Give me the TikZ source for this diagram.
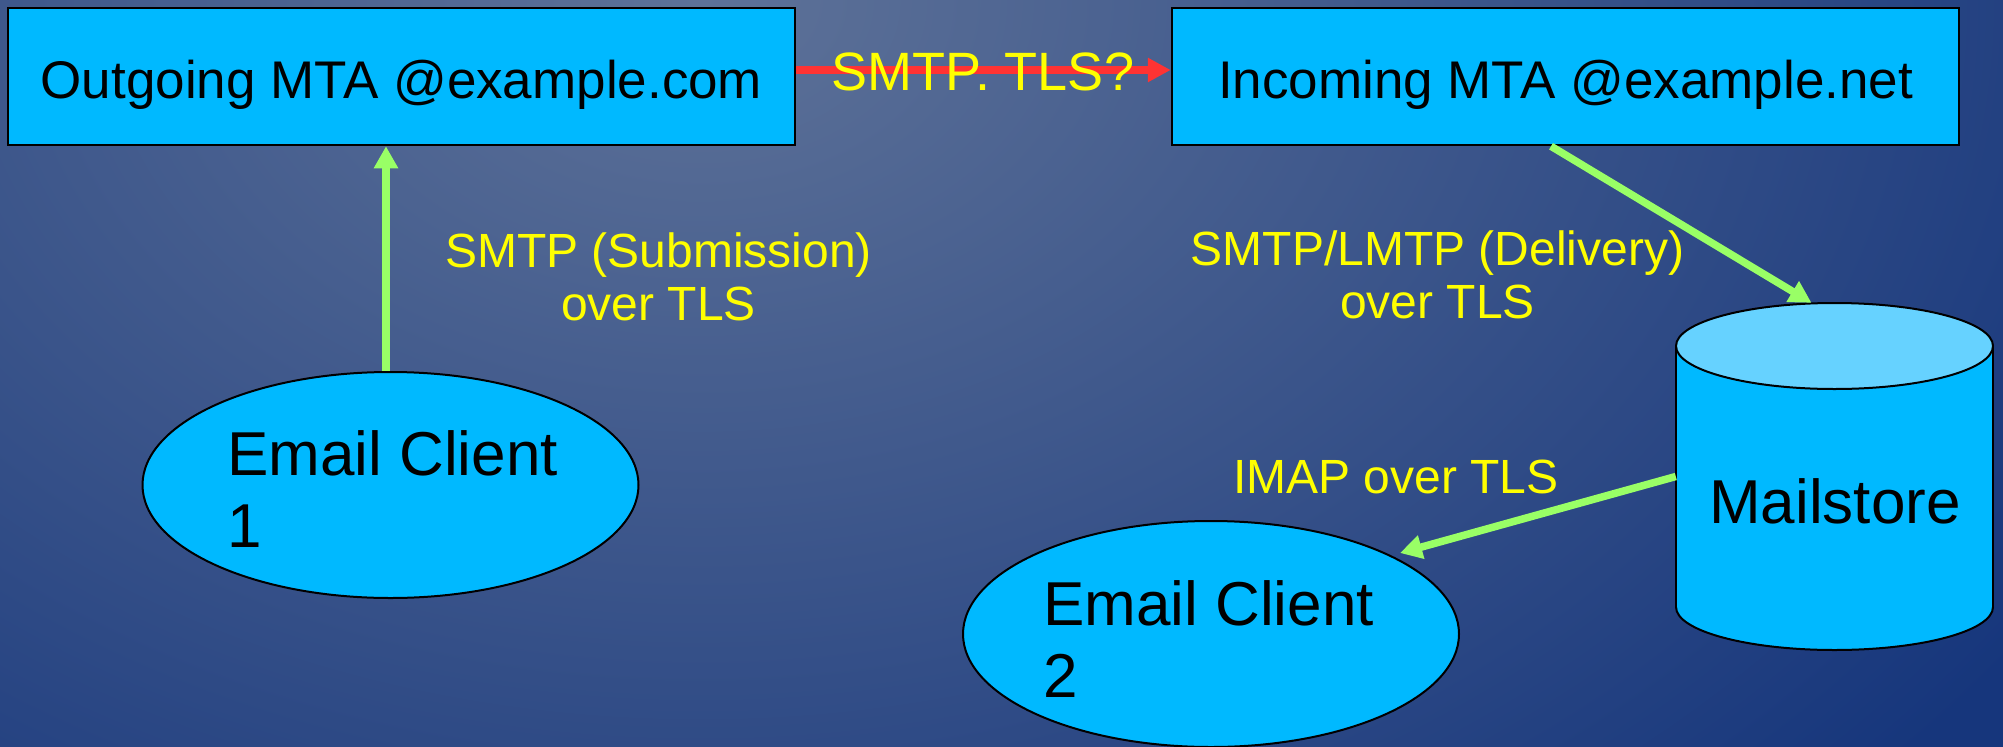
\documentclass[tikz,border=0pt]{standalone}
\usepackage{fontspec}
\setmainfont{Liberation Sans}
\usetikzlibrary{arrows.meta,shapes.geometric}
\definecolor{nodefill}{RGB}{0,185,255}
\definecolor{topfill}{RGB}{102,210,255}
\definecolor{arrgreen}{RGB}{153,255,102}
\definecolor{arrred}{RGB}{255,51,51}
\definecolor{bglight}{RGB}{94,114,152}
\definecolor{bgdark}{RGB}{22,54,124}
\definecolor{lblyellow}{RGB}{255,255,0}
\begin{document}
\begin{tikzpicture}[x=1pt,y=-1pt,
  mtabox/.style={draw=black, line width=2.5pt, fill=nodefill, inner sep=0pt,
    minimum width=787pt, text height=90pt, text depth=47pt,
    font=\fontsize{53}{60}\selectfont},
  client/.style={shape=ellipse, draw=black, line width=2pt, fill=nodefill,
    inner sep=0pt, minimum width=496pt, minimum height=226pt},
  clienttext/.style={anchor=base west, align=left, inner sep=0pt,
    font=\fontsize{62}{72}\selectfont},
  lbl/.style={anchor=base, align=center, inner sep=0pt, text=lblyellow,
    font=\fontsize{48}{53}\selectfont},
  conn/.style={draw=arrgreen, line width=7.5pt, -{Triangle[length=22pt,width=23pt]}},
  redconn/.style={draw=arrred, line width=8pt, -{Triangle[length=23pt,width=23pt]}},
  cyl/.style={draw=black, line width=2pt}
]
\useasboundingbox (0,0) rectangle (2003,747);
\begin{scope}
  \clip (0,0) rectangle (2003,747);
  \fill[bgdark] (0,0) rectangle (2003,747);
  \shade[inner color=bglight, outer color=bgdark] (700,0) ellipse [x radius=1600, y radius=1150];
\end{scope}

% boxes
\node[mtabox] (out) at (401.5,76.5) {Outgoing MTA @example.com};
\node[mtabox] (in) at (1565.5,76.5) {Incoming MTA @example.net};

% email clients
\node[client] (e1) at (390.5,485) {};
\node[clienttext] (e1t) at (227,547) {Email Client\\1};
\node[client] (e2) at (1211,634) {};
\node[clienttext] (e2t) at (1043,697) {Email Client\\2};

% mailstore cylinder
\node[minimum width=317pt, minimum height=347pt, inner sep=0pt] (ms) at (1834.5,476.5) {};
\fill[nodefill] (1834.5,607) ellipse [x radius=158.5, y radius=43];
\draw[cyl] (1834.5,607) ellipse [x radius=158.5, y radius=43];
\fill[nodefill] (1676,346) rectangle (1993,607);
\draw[cyl] (1676,346) -- (1676,607);
\draw[cyl] (1993,346) -- (1993,607);
\draw[cyl, fill=topfill] (1834.5,346) ellipse [x radius=158.5, y radius=43];
\node[anchor=base, inner sep=0pt, font=\fontsize{62}{72}\selectfont] (mst) at (1835,523) {Mailstore};

% connectors
\draw[redconn] ([yshift=6.5pt]out.east) -- ([yshift=6.5pt]in.west);
\node[lbl, font=\fontsize{54}{60}\selectfont] (l0) at (983,90) {SMTP. TLS?};

\draw[conn] ([xshift=-4.5pt]e1.north) -- ([xshift=-4.5pt]e1.north |- out.south);
\node[lbl] (l1) at (658.5,320) {SMTP (Submission)\\over TLS};

\draw[conn] ([xshift=-14.5pt]in.south) -- ([xshift=-23pt]ms.north);
\node[lbl] (l2) at (1437.5,318) {SMTP/LMTP (Delivery)\\over TLS};

\draw[conn] (ms.west) -- ([shift={(189,-81)}]e2.center);
\node[lbl] (l3) at (1396,493) {IMAP over TLS};
\end{tikzpicture}
\end{document}
